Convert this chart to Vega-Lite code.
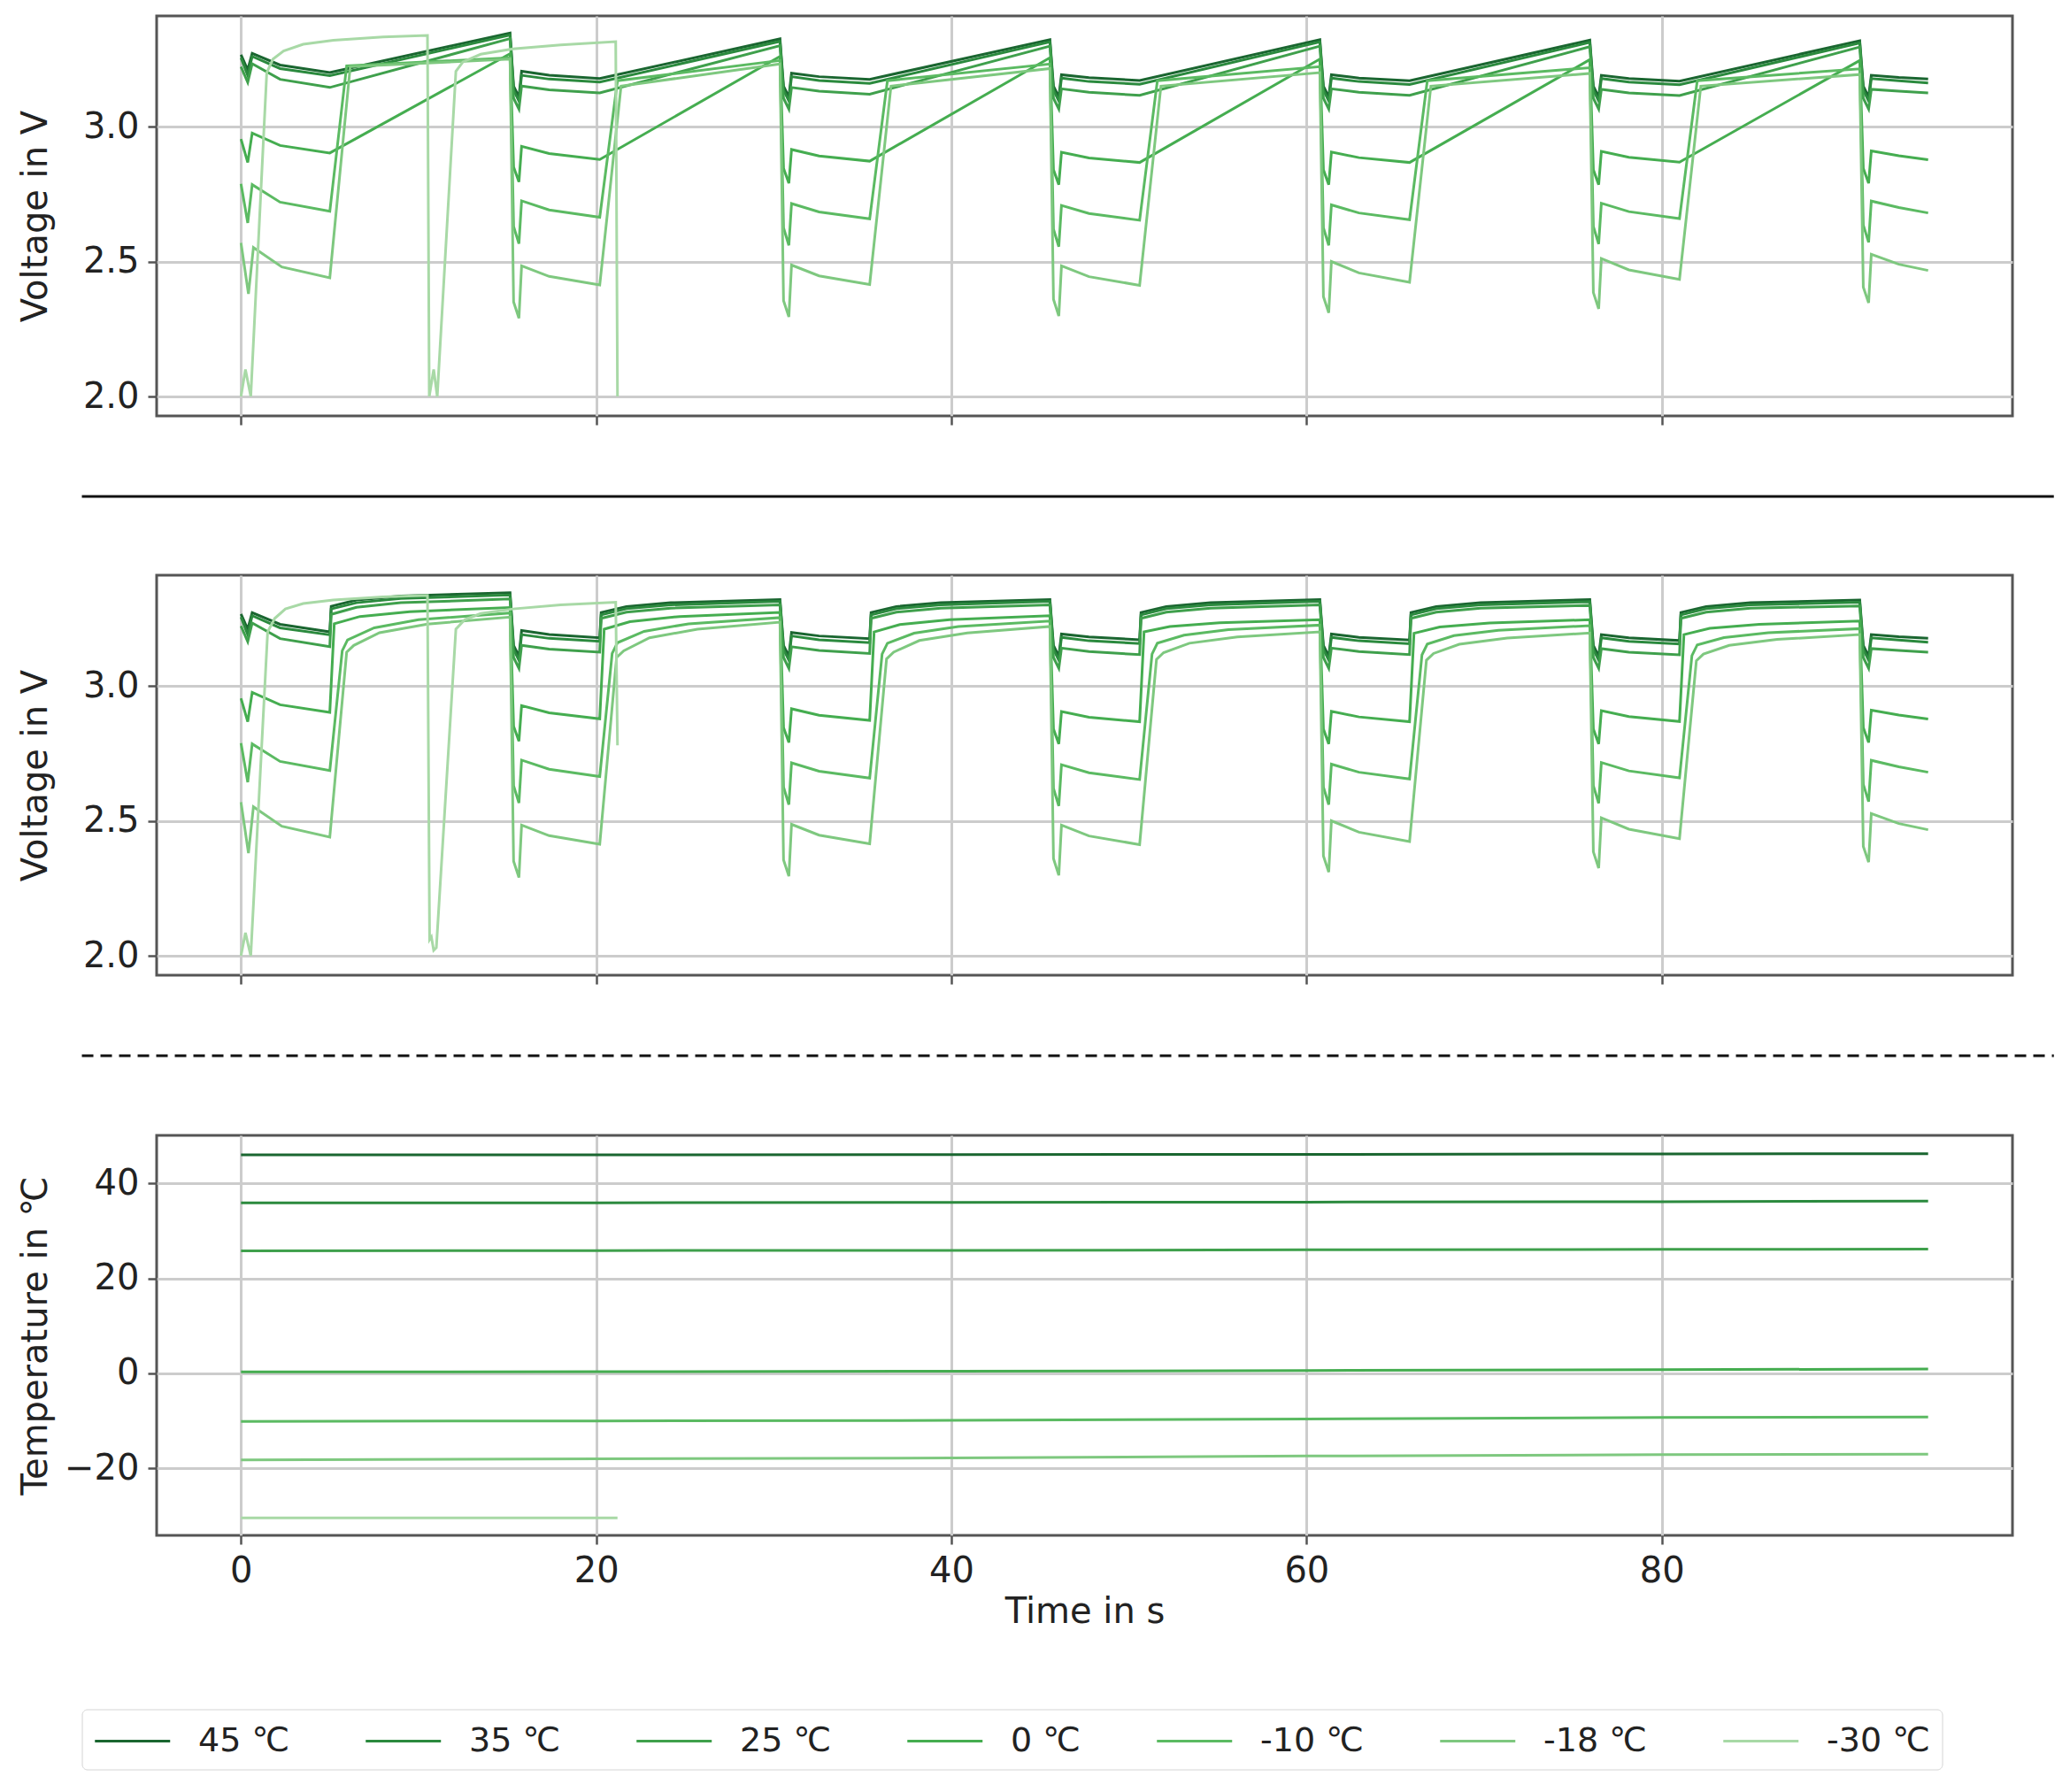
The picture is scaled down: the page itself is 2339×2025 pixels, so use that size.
{
  "$schema": "https://vega.github.io/schema/vega-lite/v6.json",
  "background": "white",
  "padding": {"left": 18, "top": 16, "right": 10, "bottom": 10},
  "bounds": "flush",
  "spacing": 0,
  "config": {
    "font": "DejaVu Sans",
    "view": {"stroke": "#555555", "strokeWidth": 3},
    "axis": {
      "domain": false,
      "gridColor": "#cccccc",
      "gridWidth": 3,
      "tickColor": "#555555",
      "tickWidth": 2.5,
      "tickSize": 10,
      "labelFontSize": 40,
      "labelColor": "#222222",
      "labelPadding": 10,
      "titleFontSize": 40,
      "titleFontWeight": "normal",
      "titleColor": "#222222"
    },
    "line": {"strokeWidth": 3}
  },
  "datasets": {
    "volt": [
      {"s":"45 ℃","p":"a","t":0,"v":3.266},{"s":"45 ℃","p":"a","t":0.38,"v":3.21},{"s":"45 ℃","p":"a","t":0.63,"v":3.271},{"s":"45 ℃","p":"a","t":2.2,"v":3.228},{"s":"45 ℃","p":"a","t":5,"v":3.2},
      {"s":"45 ℃","p":"a","t":15.35,"v":3.15},{"s":"45 ℃","p":"a","t":15.65,"v":3.11},{"s":"45 ℃","p":"a","t":15.8,"v":3.205},{"s":"45 ℃","p":"a","t":17.35,"v":3.19},{"s":"45 ℃","p":"a","t":20.2,"v":3.178},
      {"s":"45 ℃","p":"a","t":30.55,"v":3.15},{"s":"45 ℃","p":"a","t":30.85,"v":3.11},{"s":"45 ℃","p":"a","t":31,"v":3.198},{"s":"45 ℃","p":"a","t":32.55,"v":3.185},{"s":"45 ℃","p":"a","t":35.4,"v":3.175},
      {"s":"45 ℃","p":"a","t":45.75,"v":3.15},{"s":"45 ℃","p":"a","t":46.05,"v":3.11},{"s":"45 ℃","p":"a","t":46.2,"v":3.192},{"s":"45 ℃","p":"a","t":47.75,"v":3.181},{"s":"45 ℃","p":"a","t":50.6,"v":3.171},
      {"s":"45 ℃","p":"a","t":60.95,"v":3.15},{"s":"45 ℃","p":"a","t":61.25,"v":3.11},{"s":"45 ℃","p":"a","t":61.4,"v":3.192},{"s":"45 ℃","p":"a","t":62.95,"v":3.18},{"s":"45 ℃","p":"a","t":65.8,"v":3.17},
      {"s":"45 ℃","p":"a","t":76.15,"v":3.15},{"s":"45 ℃","p":"a","t":76.45,"v":3.11},{"s":"45 ℃","p":"a","t":76.6,"v":3.19},{"s":"45 ℃","p":"a","t":78.15,"v":3.178},{"s":"45 ℃","p":"a","t":81,"v":3.168},
      {"s":"45 ℃","p":"a","t":91.35,"v":3.15},{"s":"45 ℃","p":"a","t":91.65,"v":3.11},{"s":"45 ℃","p":"a","t":91.8,"v":3.19},{"s":"45 ℃","p":"a","t":93.35,"v":3.182},{"s":"45 ℃","p":"a","t":95,"v":3.176},
      {"s":"45 ℃","p":"1","t":15.15,"v":3.347},{"s":"45 ℃","p":"1","t":30.35,"v":3.325},{"s":"45 ℃","p":"1","t":45.55,"v":3.322},{"s":"45 ℃","p":"1","t":60.75,"v":3.322},{"s":"45 ℃","p":"1","t":75.95,"v":3.32},{"s":"45 ℃","p":"1","t":91.15,"v":3.318},
      {"s":"45 ℃","p":"2","t":5.08,"v":3.295},{"s":"45 ℃","p":"2","t":6.5,"v":3.318},{"s":"45 ℃","p":"2","t":9,"v":3.333},{"s":"45 ℃","p":"2","t":15.15,"v":3.345},
      {"s":"45 ℃","p":"2","t":20.28,"v":3.272},{"s":"45 ℃","p":"2","t":21.7,"v":3.294},{"s":"45 ℃","p":"2","t":24.2,"v":3.308},{"s":"45 ℃","p":"2","t":30.35,"v":3.32},
      {"s":"45 ℃","p":"2","t":35.48,"v":3.272},{"s":"45 ℃","p":"2","t":36.9,"v":3.294},{"s":"45 ℃","p":"2","t":39.4,"v":3.308},{"s":"45 ℃","p":"2","t":45.55,"v":3.32},
      {"s":"45 ℃","p":"2","t":50.68,"v":3.272},{"s":"45 ℃","p":"2","t":52.1,"v":3.294},{"s":"45 ℃","p":"2","t":54.6,"v":3.308},{"s":"45 ℃","p":"2","t":60.75,"v":3.32},
      {"s":"45 ℃","p":"2","t":65.88,"v":3.272},{"s":"45 ℃","p":"2","t":67.3,"v":3.294},{"s":"45 ℃","p":"2","t":69.8,"v":3.308},{"s":"45 ℃","p":"2","t":75.95,"v":3.32},
      {"s":"45 ℃","p":"2","t":81.08,"v":3.272},{"s":"45 ℃","p":"2","t":82.5,"v":3.294},{"s":"45 ℃","p":"2","t":85,"v":3.308},{"s":"45 ℃","p":"2","t":91.15,"v":3.318},

      {"s":"35 ℃","p":"a","t":0,"v":3.255},{"s":"35 ℃","p":"a","t":0.38,"v":3.19},{"s":"35 ℃","p":"a","t":0.63,"v":3.26},{"s":"35 ℃","p":"a","t":2.2,"v":3.215},{"s":"35 ℃","p":"a","t":5,"v":3.189},
      {"s":"35 ℃","p":"a","t":15.35,"v":3.135},{"s":"35 ℃","p":"a","t":15.65,"v":3.095},{"s":"35 ℃","p":"a","t":15.8,"v":3.19},{"s":"35 ℃","p":"a","t":17.35,"v":3.176},{"s":"35 ℃","p":"a","t":20.2,"v":3.165},
      {"s":"35 ℃","p":"a","t":30.55,"v":3.135},{"s":"35 ℃","p":"a","t":30.85,"v":3.095},{"s":"35 ℃","p":"a","t":31,"v":3.185},{"s":"35 ℃","p":"a","t":32.55,"v":3.171},{"s":"35 ℃","p":"a","t":35.4,"v":3.16},
      {"s":"35 ℃","p":"a","t":45.75,"v":3.135},{"s":"35 ℃","p":"a","t":46.05,"v":3.095},{"s":"35 ℃","p":"a","t":46.2,"v":3.18},{"s":"35 ℃","p":"a","t":47.75,"v":3.167},{"s":"35 ℃","p":"a","t":50.6,"v":3.157},
      {"s":"35 ℃","p":"a","t":60.95,"v":3.135},{"s":"35 ℃","p":"a","t":61.25,"v":3.095},{"s":"35 ℃","p":"a","t":61.4,"v":3.18},{"s":"35 ℃","p":"a","t":62.95,"v":3.167},{"s":"35 ℃","p":"a","t":65.8,"v":3.156},
      {"s":"35 ℃","p":"a","t":76.15,"v":3.135},{"s":"35 ℃","p":"a","t":76.45,"v":3.095},{"s":"35 ℃","p":"a","t":76.6,"v":3.178},{"s":"35 ℃","p":"a","t":78.15,"v":3.165},{"s":"35 ℃","p":"a","t":81,"v":3.155},
      {"s":"35 ℃","p":"a","t":91.35,"v":3.135},{"s":"35 ℃","p":"a","t":91.65,"v":3.095},{"s":"35 ℃","p":"a","t":91.8,"v":3.178},{"s":"35 ℃","p":"a","t":93.35,"v":3.17},{"s":"35 ℃","p":"a","t":95,"v":3.162},
      {"s":"35 ℃","p":"1","t":15.15,"v":3.339},{"s":"35 ℃","p":"1","t":30.35,"v":3.316},{"s":"35 ℃","p":"1","t":45.55,"v":3.314},{"s":"35 ℃","p":"1","t":60.75,"v":3.314},{"s":"35 ℃","p":"1","t":75.95,"v":3.312},{"s":"35 ℃","p":"1","t":91.15,"v":3.31},
      {"s":"35 ℃","p":"2","t":5.08,"v":3.285},{"s":"35 ℃","p":"2","t":6.5,"v":3.308},{"s":"35 ℃","p":"2","t":9,"v":3.324},{"s":"35 ℃","p":"2","t":15.15,"v":3.337},
      {"s":"35 ℃","p":"2","t":20.28,"v":3.263},{"s":"35 ℃","p":"2","t":21.7,"v":3.286},{"s":"35 ℃","p":"2","t":24.2,"v":3.3},{"s":"35 ℃","p":"2","t":30.35,"v":3.313},
      {"s":"35 ℃","p":"2","t":35.48,"v":3.263},{"s":"35 ℃","p":"2","t":36.9,"v":3.286},{"s":"35 ℃","p":"2","t":39.4,"v":3.3},{"s":"35 ℃","p":"2","t":45.55,"v":3.313},
      {"s":"35 ℃","p":"2","t":50.68,"v":3.263},{"s":"35 ℃","p":"2","t":52.1,"v":3.286},{"s":"35 ℃","p":"2","t":54.6,"v":3.3},{"s":"35 ℃","p":"2","t":60.75,"v":3.313},
      {"s":"35 ℃","p":"2","t":65.88,"v":3.263},{"s":"35 ℃","p":"2","t":67.3,"v":3.286},{"s":"35 ℃","p":"2","t":69.8,"v":3.3},{"s":"35 ℃","p":"2","t":75.95,"v":3.312},
      {"s":"35 ℃","p":"2","t":81.08,"v":3.263},{"s":"35 ℃","p":"2","t":82.5,"v":3.286},{"s":"35 ℃","p":"2","t":85,"v":3.3},{"s":"35 ℃","p":"2","t":91.15,"v":3.31},

      {"s":"25 ℃","p":"a","t":0,"v":3.222},{"s":"25 ℃","p":"a","t":0.38,"v":3.164},{"s":"25 ℃","p":"a","t":0.63,"v":3.233},{"s":"25 ℃","p":"a","t":2.2,"v":3.175},{"s":"25 ℃","p":"a","t":5,"v":3.145},
      {"s":"25 ℃","p":"a","t":15.35,"v":3.105},{"s":"25 ℃","p":"a","t":15.65,"v":3.065},{"s":"25 ℃","p":"a","t":15.8,"v":3.15},{"s":"25 ℃","p":"a","t":17.35,"v":3.136},{"s":"25 ℃","p":"a","t":20.2,"v":3.125},
      {"s":"25 ℃","p":"a","t":30.55,"v":3.105},{"s":"25 ℃","p":"a","t":30.85,"v":3.065},{"s":"25 ℃","p":"a","t":31,"v":3.145},{"s":"25 ℃","p":"a","t":32.55,"v":3.131},{"s":"25 ℃","p":"a","t":35.4,"v":3.12},
      {"s":"25 ℃","p":"a","t":45.75,"v":3.105},{"s":"25 ℃","p":"a","t":46.05,"v":3.065},{"s":"25 ℃","p":"a","t":46.2,"v":3.14},{"s":"25 ℃","p":"a","t":47.75,"v":3.127},{"s":"25 ℃","p":"a","t":50.6,"v":3.116},
      {"s":"25 ℃","p":"a","t":60.95,"v":3.105},{"s":"25 ℃","p":"a","t":61.25,"v":3.065},{"s":"25 ℃","p":"a","t":61.4,"v":3.14},{"s":"25 ℃","p":"a","t":62.95,"v":3.127},{"s":"25 ℃","p":"a","t":65.8,"v":3.116},
      {"s":"25 ℃","p":"a","t":76.15,"v":3.105},{"s":"25 ℃","p":"a","t":76.45,"v":3.065},{"s":"25 ℃","p":"a","t":76.6,"v":3.138},{"s":"25 ℃","p":"a","t":78.15,"v":3.125},{"s":"25 ℃","p":"a","t":81,"v":3.115},
      {"s":"25 ℃","p":"a","t":91.35,"v":3.105},{"s":"25 ℃","p":"a","t":91.65,"v":3.065},{"s":"25 ℃","p":"a","t":91.8,"v":3.138},{"s":"25 ℃","p":"a","t":93.35,"v":3.131},{"s":"25 ℃","p":"a","t":95,"v":3.125},
      {"s":"25 ℃","p":"1","t":15.15,"v":3.326},{"s":"25 ℃","p":"1","t":30.35,"v":3.3},{"s":"25 ℃","p":"1","t":45.55,"v":3.298},{"s":"25 ℃","p":"1","t":60.75,"v":3.298},{"s":"25 ℃","p":"1","t":75.95,"v":3.296},{"s":"25 ℃","p":"1","t":91.15,"v":3.295},
      {"s":"25 ℃","p":"2","t":5.08,"v":3.265},{"s":"25 ℃","p":"2","t":6.5,"v":3.291},{"s":"25 ℃","p":"2","t":9,"v":3.308},{"s":"25 ℃","p":"2","t":15.15,"v":3.322},
      {"s":"25 ℃","p":"2","t":20.28,"v":3.25},{"s":"25 ℃","p":"2","t":21.7,"v":3.273},{"s":"25 ℃","p":"2","t":24.2,"v":3.288},{"s":"25 ℃","p":"2","t":30.35,"v":3.3},
      {"s":"25 ℃","p":"2","t":35.48,"v":3.25},{"s":"25 ℃","p":"2","t":36.9,"v":3.273},{"s":"25 ℃","p":"2","t":39.4,"v":3.288},{"s":"25 ℃","p":"2","t":45.55,"v":3.3},
      {"s":"25 ℃","p":"2","t":50.68,"v":3.25},{"s":"25 ℃","p":"2","t":52.1,"v":3.273},{"s":"25 ℃","p":"2","t":54.6,"v":3.288},{"s":"25 ℃","p":"2","t":60.75,"v":3.3},
      {"s":"25 ℃","p":"2","t":65.88,"v":3.25},{"s":"25 ℃","p":"2","t":67.3,"v":3.273},{"s":"25 ℃","p":"2","t":69.8,"v":3.288},{"s":"25 ℃","p":"2","t":75.95,"v":3.298},
      {"s":"25 ℃","p":"2","t":81.08,"v":3.25},{"s":"25 ℃","p":"2","t":82.5,"v":3.273},{"s":"25 ℃","p":"2","t":85,"v":3.288},{"s":"25 ℃","p":"2","t":91.15,"v":3.296},

      {"s":"0 ℃","p":"a","t":0,"v":2.954},{"s":"0 ℃","p":"a","t":0.38,"v":2.867},{"s":"0 ℃","p":"a","t":0.63,"v":2.976},{"s":"0 ℃","p":"a","t":2.2,"v":2.93},{"s":"0 ℃","p":"a","t":5,"v":2.902},
      {"s":"0 ℃","p":"a","t":15.35,"v":2.85},{"s":"0 ℃","p":"a","t":15.65,"v":2.795},{"s":"0 ℃","p":"a","t":15.8,"v":2.927},{"s":"0 ℃","p":"a","t":17.35,"v":2.9},{"s":"0 ℃","p":"a","t":20.2,"v":2.878},
      {"s":"0 ℃","p":"a","t":30.55,"v":2.845},{"s":"0 ℃","p":"a","t":30.85,"v":2.79},{"s":"0 ℃","p":"a","t":31,"v":2.915},{"s":"0 ℃","p":"a","t":32.55,"v":2.891},{"s":"0 ℃","p":"a","t":35.4,"v":2.872},
      {"s":"0 ℃","p":"a","t":45.75,"v":2.84},{"s":"0 ℃","p":"a","t":46.05,"v":2.785},{"s":"0 ℃","p":"a","t":46.2,"v":2.905},{"s":"0 ℃","p":"a","t":47.75,"v":2.884},{"s":"0 ℃","p":"a","t":50.6,"v":2.867},
      {"s":"0 ℃","p":"a","t":60.95,"v":2.84},{"s":"0 ℃","p":"a","t":61.25,"v":2.785},{"s":"0 ℃","p":"a","t":61.4,"v":2.906},{"s":"0 ℃","p":"a","t":62.95,"v":2.885},{"s":"0 ℃","p":"a","t":65.8,"v":2.867},
      {"s":"0 ℃","p":"a","t":76.15,"v":2.84},{"s":"0 ℃","p":"a","t":76.45,"v":2.785},{"s":"0 ℃","p":"a","t":76.6,"v":2.908},{"s":"0 ℃","p":"a","t":78.15,"v":2.886},{"s":"0 ℃","p":"a","t":81,"v":2.868},
      {"s":"0 ℃","p":"a","t":91.35,"v":2.845},{"s":"0 ℃","p":"a","t":91.65,"v":2.79},{"s":"0 ℃","p":"a","t":91.8,"v":2.91},{"s":"0 ℃","p":"a","t":93.35,"v":2.892},{"s":"0 ℃","p":"a","t":95,"v":2.877},
      {"s":"0 ℃","p":"1","t":15.15,"v":3.27},{"s":"0 ℃","p":"1","t":30.35,"v":3.26},{"s":"0 ℃","p":"1","t":45.55,"v":3.255},{"s":"0 ℃","p":"1","t":60.75,"v":3.25},{"s":"0 ℃","p":"1","t":75.95,"v":3.248},{"s":"0 ℃","p":"1","t":91.15,"v":3.245},
      {"s":"0 ℃","p":"2","t":5.25,"v":3.23},{"s":"0 ℃","p":"2","t":6.7,"v":3.257},{"s":"0 ℃","p":"2","t":9.5,"v":3.275},{"s":"0 ℃","p":"2","t":15.15,"v":3.29},
      {"s":"0 ℃","p":"2","t":20.45,"v":3.21},{"s":"0 ℃","p":"2","t":21.9,"v":3.238},{"s":"0 ℃","p":"2","t":24.7,"v":3.257},{"s":"0 ℃","p":"2","t":30.35,"v":3.272},
      {"s":"0 ℃","p":"2","t":35.65,"v":3.2},{"s":"0 ℃","p":"2","t":37.1,"v":3.227},{"s":"0 ℃","p":"2","t":39.9,"v":3.245},{"s":"0 ℃","p":"2","t":45.55,"v":3.26},
      {"s":"0 ℃","p":"2","t":50.85,"v":3.2},{"s":"0 ℃","p":"2","t":52.3,"v":3.22},{"s":"0 ℃","p":"2","t":55.1,"v":3.234},{"s":"0 ℃","p":"2","t":60.75,"v":3.245},
      {"s":"0 ℃","p":"2","t":66.05,"v":3.195},{"s":"0 ℃","p":"2","t":67.5,"v":3.218},{"s":"0 ℃","p":"2","t":70.3,"v":3.233},{"s":"0 ℃","p":"2","t":75.95,"v":3.245},
      {"s":"0 ℃","p":"2","t":81.25,"v":3.19},{"s":"0 ℃","p":"2","t":82.7,"v":3.213},{"s":"0 ℃","p":"2","t":85.5,"v":3.228},{"s":"0 ℃","p":"2","t":91.15,"v":3.24},

      {"s":"-10 ℃","p":"a","t":0,"v":2.788},{"s":"-10 ℃","p":"a","t":0.38,"v":2.643},{"s":"-10 ℃","p":"a","t":0.63,"v":2.785},{"s":"-10 ℃","p":"a","t":2.2,"v":2.72},{"s":"-10 ℃","p":"a","t":5,"v":2.686},
      {"s":"-10 ℃","p":"a","t":15.35,"v":2.63},{"s":"-10 ℃","p":"a","t":15.65,"v":2.566},{"s":"-10 ℃","p":"a","t":15.8,"v":2.725},{"s":"-10 ℃","p":"a","t":17.35,"v":2.691},{"s":"-10 ℃","p":"a","t":20.2,"v":2.664},
      {"s":"-10 ℃","p":"a","t":30.55,"v":2.625},{"s":"-10 ℃","p":"a","t":30.85,"v":2.56},{"s":"-10 ℃","p":"a","t":31,"v":2.715},{"s":"-10 ℃","p":"a","t":32.55,"v":2.684},{"s":"-10 ℃","p":"a","t":35.4,"v":2.658},
      {"s":"-10 ℃","p":"a","t":45.75,"v":2.62},{"s":"-10 ℃","p":"a","t":46.05,"v":2.555},{"s":"-10 ℃","p":"a","t":46.2,"v":2.708},{"s":"-10 ℃","p":"a","t":47.75,"v":2.678},{"s":"-10 ℃","p":"a","t":50.6,"v":2.653},
      {"s":"-10 ℃","p":"a","t":60.95,"v":2.625},{"s":"-10 ℃","p":"a","t":61.25,"v":2.56},{"s":"-10 ℃","p":"a","t":61.4,"v":2.71},{"s":"-10 ℃","p":"a","t":62.95,"v":2.68},{"s":"-10 ℃","p":"a","t":65.8,"v":2.655},
      {"s":"-10 ℃","p":"a","t":76.15,"v":2.63},{"s":"-10 ℃","p":"a","t":76.45,"v":2.565},{"s":"-10 ℃","p":"a","t":76.6,"v":2.716},{"s":"-10 ℃","p":"a","t":78.15,"v":2.685},{"s":"-10 ℃","p":"a","t":81,"v":2.659},
      {"s":"-10 ℃","p":"a","t":91.35,"v":2.635},{"s":"-10 ℃","p":"a","t":91.65,"v":2.571},{"s":"-10 ℃","p":"a","t":91.8,"v":2.724},{"s":"-10 ℃","p":"a","t":93.35,"v":2.7},{"s":"-10 ℃","p":"a","t":95,"v":2.68},
      {"s":"-10 ℃","p":"1","t":5.95,"v":3.225},{"s":"-10 ℃","p":"1","t":15.15,"v":3.255},{"s":"-10 ℃","p":"1","t":21.2,"v":3.17},{"s":"-10 ℃","p":"1","t":30.35,"v":3.245},
      {"s":"-10 ℃","p":"1","t":36.4,"v":3.17},{"s":"-10 ℃","p":"1","t":45.55,"v":3.232},{"s":"-10 ℃","p":"1","t":51.6,"v":3.17},{"s":"-10 ℃","p":"1","t":60.75,"v":3.222},
      {"s":"-10 ℃","p":"1","t":66.8,"v":3.17},{"s":"-10 ℃","p":"1","t":75.95,"v":3.218},{"s":"-10 ℃","p":"1","t":82,"v":3.17},{"s":"-10 ℃","p":"1","t":91.15,"v":3.214},
      {"s":"-10 ℃","p":"2","t":5.7,"v":3.13},{"s":"-10 ℃","p":"2","t":6,"v":3.17},{"s":"-10 ℃","p":"2","t":7.5,"v":3.215},{"s":"-10 ℃","p":"2","t":10,"v":3.245},{"s":"-10 ℃","p":"2","t":15.15,"v":3.27},
      {"s":"-10 ℃","p":"2","t":20.9,"v":3.12},{"s":"-10 ℃","p":"2","t":21.2,"v":3.16},{"s":"-10 ℃","p":"2","t":22.7,"v":3.202},{"s":"-10 ℃","p":"2","t":25.2,"v":3.23},{"s":"-10 ℃","p":"2","t":30.35,"v":3.253},
      {"s":"-10 ℃","p":"2","t":36.1,"v":3.118},{"s":"-10 ℃","p":"2","t":36.4,"v":3.158},{"s":"-10 ℃","p":"2","t":37.9,"v":3.195},{"s":"-10 ℃","p":"2","t":40.4,"v":3.22},{"s":"-10 ℃","p":"2","t":45.55,"v":3.24},
      {"s":"-10 ℃","p":"2","t":51.3,"v":3.118},{"s":"-10 ℃","p":"2","t":51.6,"v":3.158},{"s":"-10 ℃","p":"2","t":53.1,"v":3.188},{"s":"-10 ℃","p":"2","t":55.6,"v":3.208},{"s":"-10 ℃","p":"2","t":60.75,"v":3.225},
      {"s":"-10 ℃","p":"2","t":66.5,"v":3.115},{"s":"-10 ℃","p":"2","t":66.8,"v":3.155},{"s":"-10 ℃","p":"2","t":68.3,"v":3.186},{"s":"-10 ℃","p":"2","t":70.8,"v":3.206},{"s":"-10 ℃","p":"2","t":75.95,"v":3.223},
      {"s":"-10 ℃","p":"2","t":81.7,"v":3.112},{"s":"-10 ℃","p":"2","t":82,"v":3.152},{"s":"-10 ℃","p":"2","t":83.5,"v":3.179},{"s":"-10 ℃","p":"2","t":86,"v":3.197},{"s":"-10 ℃","p":"2","t":91.15,"v":3.212},

      {"s":"-18 ℃","p":"a","t":0,"v":2.569},{"s":"-18 ℃","p":"a","t":0.42,"v":2.38},{"s":"-18 ℃","p":"a","t":0.7,"v":2.552},{"s":"-18 ℃","p":"a","t":2.3,"v":2.48},{"s":"-18 ℃","p":"a","t":5,"v":2.44},
      {"s":"-18 ℃","p":"a","t":15.35,"v":2.35},{"s":"-18 ℃","p":"a","t":15.65,"v":2.29},{"s":"-18 ℃","p":"a","t":15.8,"v":2.484},{"s":"-18 ℃","p":"a","t":17.35,"v":2.445},{"s":"-18 ℃","p":"a","t":20.2,"v":2.413},
      {"s":"-18 ℃","p":"a","t":30.55,"v":2.355},{"s":"-18 ℃","p":"a","t":30.85,"v":2.295},{"s":"-18 ℃","p":"a","t":31,"v":2.487},{"s":"-18 ℃","p":"a","t":32.55,"v":2.447},{"s":"-18 ℃","p":"a","t":35.4,"v":2.415},
      {"s":"-18 ℃","p":"a","t":45.75,"v":2.36},{"s":"-18 ℃","p":"a","t":46.05,"v":2.298},{"s":"-18 ℃","p":"a","t":46.2,"v":2.484},{"s":"-18 ℃","p":"a","t":47.75,"v":2.444},{"s":"-18 ℃","p":"a","t":50.6,"v":2.412},
      {"s":"-18 ℃","p":"a","t":60.95,"v":2.37},{"s":"-18 ℃","p":"a","t":61.25,"v":2.31},{"s":"-18 ℃","p":"a","t":61.4,"v":2.5},{"s":"-18 ℃","p":"a","t":62.95,"v":2.458},{"s":"-18 ℃","p":"a","t":65.8,"v":2.423},
      {"s":"-18 ℃","p":"a","t":76.15,"v":2.385},{"s":"-18 ℃","p":"a","t":76.45,"v":2.325},{"s":"-18 ℃","p":"a","t":76.6,"v":2.511},{"s":"-18 ℃","p":"a","t":78.15,"v":2.469},{"s":"-18 ℃","p":"a","t":81,"v":2.434},
      {"s":"-18 ℃","p":"a","t":91.35,"v":2.405},{"s":"-18 ℃","p":"a","t":91.65,"v":2.347},{"s":"-18 ℃","p":"a","t":91.8,"v":2.527},{"s":"-18 ℃","p":"a","t":93.35,"v":2.49},{"s":"-18 ℃","p":"a","t":95,"v":2.467},
      {"s":"-18 ℃","p":"1","t":6.15,"v":3.222},{"s":"-18 ℃","p":"1","t":15.15,"v":3.25},{"s":"-18 ℃","p":"1","t":21.4,"v":3.15},{"s":"-18 ℃","p":"1","t":30.35,"v":3.232},
      {"s":"-18 ℃","p":"1","t":36.6,"v":3.15},{"s":"-18 ℃","p":"1","t":45.55,"v":3.215},{"s":"-18 ℃","p":"1","t":51.8,"v":3.15},{"s":"-18 ℃","p":"1","t":60.75,"v":3.2},
      {"s":"-18 ℃","p":"1","t":67,"v":3.15},{"s":"-18 ℃","p":"1","t":75.95,"v":3.197},{"s":"-18 ℃","p":"1","t":82.2,"v":3.15},{"s":"-18 ℃","p":"1","t":91.15,"v":3.193},
      {"s":"-18 ℃","p":"2","t":5.95,"v":3.125},{"s":"-18 ℃","p":"2","t":6.35,"v":3.15},{"s":"-18 ℃","p":"2","t":7.8,"v":3.197},{"s":"-18 ℃","p":"2","t":10.5,"v":3.229},{"s":"-18 ℃","p":"2","t":15.15,"v":3.255},
      {"s":"-18 ℃","p":"2","t":21.15,"v":3.105},{"s":"-18 ℃","p":"2","t":21.55,"v":3.13},{"s":"-18 ℃","p":"2","t":23,"v":3.178},{"s":"-18 ℃","p":"2","t":25.7,"v":3.21},{"s":"-18 ℃","p":"2","t":30.35,"v":3.236},
      {"s":"-18 ℃","p":"2","t":36.35,"v":3.1},{"s":"-18 ℃","p":"2","t":36.75,"v":3.125},{"s":"-18 ℃","p":"2","t":38.2,"v":3.168},{"s":"-18 ℃","p":"2","t":40.9,"v":3.196},{"s":"-18 ℃","p":"2","t":45.55,"v":3.22},
      {"s":"-18 ℃","p":"2","t":51.55,"v":3.098},{"s":"-18 ℃","p":"2","t":51.95,"v":3.123},{"s":"-18 ℃","p":"2","t":53.4,"v":3.158},{"s":"-18 ℃","p":"2","t":56.1,"v":3.181},{"s":"-18 ℃","p":"2","t":60.75,"v":3.2},
      {"s":"-18 ℃","p":"2","t":66.75,"v":3.095},{"s":"-18 ℃","p":"2","t":67.15,"v":3.12},{"s":"-18 ℃","p":"2","t":68.6,"v":3.154},{"s":"-18 ℃","p":"2","t":71.3,"v":3.177},{"s":"-18 ℃","p":"2","t":75.95,"v":3.196},
      {"s":"-18 ℃","p":"2","t":81.95,"v":3.093},{"s":"-18 ℃","p":"2","t":82.35,"v":3.118},{"s":"-18 ℃","p":"2","t":83.8,"v":3.15},{"s":"-18 ℃","p":"2","t":86.5,"v":3.172},{"s":"-18 ℃","p":"2","t":91.15,"v":3.19},

      {"s":"-30 ℃","p":"1","t":0,"v":2.0},{"s":"-30 ℃","p":"1","t":0.25,"v":2.1},{"s":"-30 ℃","p":"1","t":0.55,"v":2.0},{"s":"-30 ℃","p":"1","t":1.45,"v":3.2},{"s":"-30 ℃","p":"1","t":1.8,"v":3.25},
      {"s":"-30 ℃","p":"1","t":2.4,"v":3.28},{"s":"-30 ℃","p":"1","t":3.5,"v":3.305},{"s":"-30 ℃","p":"1","t":5.2,"v":3.32},{"s":"-30 ℃","p":"1","t":8,"v":3.332},{"s":"-30 ℃","p":"1","t":10.5,"v":3.338},
      {"s":"-30 ℃","p":"1","t":10.6,"v":2.0},{"s":"-30 ℃","p":"1","t":10.85,"v":2.1},{"s":"-30 ℃","p":"1","t":11.05,"v":2.0},{"s":"-30 ℃","p":"1","t":12.1,"v":3.205},{"s":"-30 ℃","p":"1","t":12.5,"v":3.24},
      {"s":"-30 ℃","p":"1","t":13.5,"v":3.268},{"s":"-30 ℃","p":"1","t":15.3,"v":3.288},{"s":"-30 ℃","p":"1","t":18,"v":3.303},{"s":"-30 ℃","p":"1","t":21.1,"v":3.315},{"s":"-30 ℃","p":"1","t":21.2,"v":2.0},
      {"s":"-30 ℃","p":"2","t":0,"v":2.0},{"s":"-30 ℃","p":"2","t":0.25,"v":2.085},{"s":"-30 ℃","p":"2","t":0.55,"v":2.0},{"s":"-30 ℃","p":"2","t":1.5,"v":3.2},{"s":"-30 ℃","p":"2","t":1.9,"v":3.25},
      {"s":"-30 ℃","p":"2","t":2.5,"v":3.285},{"s":"-30 ℃","p":"2","t":3.5,"v":3.305},{"s":"-30 ℃","p":"2","t":5.2,"v":3.318},{"s":"-30 ℃","p":"2","t":8,"v":3.33},{"s":"-30 ℃","p":"2","t":10.5,"v":3.335},
      {"s":"-30 ℃","p":"2","t":10.62,"v":2.06},{"s":"-30 ℃","p":"2","t":10.72,"v":2.07},{"s":"-30 ℃","p":"2","t":10.85,"v":2.02},{"s":"-30 ℃","p":"2","t":11,"v":2.03},{"s":"-30 ℃","p":"2","t":12.1,"v":3.21},
      {"s":"-30 ℃","p":"2","t":12.6,"v":3.245},{"s":"-30 ℃","p":"2","t":13.5,"v":3.268},{"s":"-30 ℃","p":"2","t":15.3,"v":3.285},{"s":"-30 ℃","p":"2","t":18,"v":3.3},{"s":"-30 ℃","p":"2","t":21.1,"v":3.31},{"s":"-30 ℃","p":"2","t":21.2,"v":2.78}
    ],
    "temp": [
      {"s":"45 ℃","t":0,"v":46.0},{"s":"45 ℃","t":20,"v":46.0},{"s":"45 ℃","t":40,"v":46.05},{"s":"45 ℃","t":60,"v":46.1},{"s":"45 ℃","t":80,"v":46.2},{"s":"45 ℃","t":95,"v":46.25},
      {"s":"35 ℃","t":0,"v":35.9},{"s":"35 ℃","t":20,"v":35.9},{"s":"35 ℃","t":40,"v":36.0},{"s":"35 ℃","t":60,"v":36.05},{"s":"35 ℃","t":80,"v":36.15},{"s":"35 ℃","t":95,"v":36.25},
      {"s":"25 ℃","t":0,"v":25.8},{"s":"25 ℃","t":20,"v":25.85},{"s":"25 ℃","t":40,"v":25.9},{"s":"25 ℃","t":60,"v":26.0},{"s":"25 ℃","t":80,"v":26.1},{"s":"25 ℃","t":95,"v":26.15},
      {"s":"0 ℃","t":0,"v":0.3},{"s":"0 ℃","t":20,"v":0.35},{"s":"0 ℃","t":40,"v":0.45},{"s":"0 ℃","t":60,"v":0.6},{"s":"0 ℃","t":80,"v":0.8},{"s":"0 ℃","t":95,"v":0.9},
      {"s":"-10 ℃","t":0,"v":-10.1},{"s":"-10 ℃","t":20,"v":-10.0},{"s":"-10 ℃","t":40,"v":-9.9},{"s":"-10 ℃","t":60,"v":-9.6},{"s":"-10 ℃","t":80,"v":-9.3},{"s":"-10 ℃","t":95,"v":-9.2},
      {"s":"-18 ℃","t":0,"v":-18.2},{"s":"-18 ℃","t":20,"v":-18.0},{"s":"-18 ℃","t":40,"v":-17.8},{"s":"-18 ℃","t":60,"v":-17.4},{"s":"-18 ℃","t":80,"v":-17.1},{"s":"-18 ℃","t":95,"v":-17.0},
      {"s":"-30 ℃","t":0,"v":-30.4},{"s":"-30 ℃","t":21.2,"v":-30.4}
    ]
  },
  "vconcat": [
    {
      "width": 2097,
      "height": 452,
      "data": {"name": "volt"},
      "transform": [{"filter": "datum.p != '2'"}],
      "mark": {"type": "line", "strokeWidth": 3, "clip": true},
      "encoding": {
        "x": {"field": "t", "type": "quantitative", "scale": {"domain": [-4.75, 99.75], "nice": false, "zero": false}, "axis": {"values": [0, 20, 40, 60, 80], "labels": false, "title": null}},
        "y": {"field": "v", "type": "quantitative", "scale": {"domain": [1.928, 3.41], "nice": false, "zero": false}, "axis": {"values": [2.0, 2.5, 3.0], "format": ".1f", "title": "Voltage in V", "titleX": -124.5, "titleBaseline": "alphabetic"}},
        "color": {
          "field": "s", "type": "nominal",
          "scale": {"domain": ["45 ℃", "35 ℃", "25 ℃", "0 ℃", "-10 ℃", "-18 ℃", "-30 ℃"], "range": ["#1a6630", "#2b8a3e", "#3fa04c", "#45ad50", "#5bba62", "#7ec87f", "#a8d9a6"]},
          "legend": {"title": null, "orient": "none", "legendX": -84.5, "legendY": 1913.5, "direction": "horizontal", "columns": 7, "symbolType": "M-1,0L3,0", "symbolSize": 1806, "symbolStrokeWidth": 4.5, "labelFontSize": 38, "labelColor": "#222222", "labelOffset": 72.5, "columnPadding": 79, "padding": 13, "strokeColor": "#d4d4d4", "fillColor": "#ffffff", "cornerRadius": 6, "encode": {"symbols": {"update": {"strokeWidth": {"value": 4.5}}}}}
        }
      }
    },
    {
      "width": 2097,
      "height": 180,
      "view": {"stroke": null},
      "data": {"values": [{}]},
      "mark": {"type": "rule", "color": "#111111", "strokeWidth": 3},
      "encoding": {
        "x": {"datum": -8.96, "type": "quantitative", "scale": {"domain": [-4.75, 99.75], "nice": false, "zero": false}, "axis": null},
        "x2": {"datum": 102.08},
        "y": {"datum": 0.4944, "type": "quantitative", "scale": {"domain": [0, 1], "nice": false, "zero": false}, "axis": null}
      }
    },
    {
      "width": 2097,
      "height": 452,
      "data": {"name": "volt"},
      "transform": [{"filter": "datum.p != '1'"}],
      "mark": {"type": "line", "strokeWidth": 3, "clip": true},
      "encoding": {
        "x": {"field": "t", "type": "quantitative", "scale": {"domain": [-4.75, 99.75], "nice": false, "zero": false}, "axis": {"values": [0, 20, 40, 60, 80], "labels": false, "title": null}},
        "y": {"field": "v", "type": "quantitative", "scale": {"domain": [1.928, 3.41], "nice": false, "zero": false}, "axis": {"values": [2.0, 2.5, 3.0], "format": ".1f", "title": "Voltage in V", "titleX": -124.5, "titleBaseline": "alphabetic"}},
        "color": {
          "field": "s", "type": "nominal",
          "scale": {"domain": ["45 ℃", "35 ℃", "25 ℃", "0 ℃", "-10 ℃", "-18 ℃", "-30 ℃"], "range": ["#1a6630", "#2b8a3e", "#3fa04c", "#45ad50", "#5bba62", "#7ec87f", "#a8d9a6"]},
          "legend": {"title": null, "orient": "none", "legendX": -84.5, "legendY": 1913.5, "direction": "horizontal", "columns": 7, "symbolType": "M-1,0L3,0", "symbolSize": 1806, "symbolStrokeWidth": 4.5, "labelFontSize": 38, "labelColor": "#222222", "labelOffset": 72.5, "columnPadding": 79, "padding": 13, "strokeColor": "#d4d4d4", "fillColor": "#ffffff", "cornerRadius": 6, "encode": {"symbols": {"update": {"strokeWidth": {"value": 4.5}}}}}
        }
      }
    },
    {
      "width": 2097,
      "height": 181,
      "view": {"stroke": null},
      "data": {"values": [{}]},
      "mark": {"type": "rule", "color": "#111111", "strokeWidth": 3, "strokeDash": [13, 8]},
      "encoding": {
        "x": {"datum": -8.96, "type": "quantitative", "scale": {"domain": [-4.75, 99.75], "nice": false, "zero": false}, "axis": null},
        "x2": {"datum": 102.08},
        "y": {"datum": 0.4972, "type": "quantitative", "scale": {"domain": [0, 1], "nice": false, "zero": false}, "axis": null}
      }
    },
    {
      "width": 2097,
      "height": 452,
      "data": {"name": "temp"},
      "mark": {"type": "line", "strokeWidth": 3, "clip": true},
      "encoding": {
        "x": {"field": "t", "type": "quantitative", "scale": {"domain": [-4.75, 99.75], "nice": false, "zero": false}, "axis": {"values": [0, 20, 40, 60, 80], "title": "Time in s", "titlePadding": 6}},
        "y": {"field": "v", "type": "quantitative", "scale": {"domain": [-34.1, 50.1], "nice": false, "zero": false}, "axis": {"values": [-20, 0, 20, 40], "title": "Temperature in ℃", "titleX": -124.5, "titleBaseline": "alphabetic"}},
        "color": {
          "field": "s", "type": "nominal",
          "scale": {"domain": ["45 ℃", "35 ℃", "25 ℃", "0 ℃", "-10 ℃", "-18 ℃", "-30 ℃"], "range": ["#1a6630", "#2b8a3e", "#3fa04c", "#45ad50", "#5bba62", "#7ec87f", "#a8d9a6"]},
          "legend": {"title": null, "orient": "none", "legendX": -84.5, "legendY": 1913.5, "direction": "horizontal", "columns": 7, "symbolType": "M-1,0L3,0", "symbolSize": 1806, "symbolStrokeWidth": 4.5, "labelFontSize": 38, "labelColor": "#222222", "labelOffset": 72.5, "columnPadding": 79, "padding": 13, "strokeColor": "#d4d4d4", "fillColor": "#ffffff", "cornerRadius": 6, "encode": {"symbols": {"update": {"strokeWidth": {"value": 4.5}}}}}
        }
      }
    }
  ]
}
